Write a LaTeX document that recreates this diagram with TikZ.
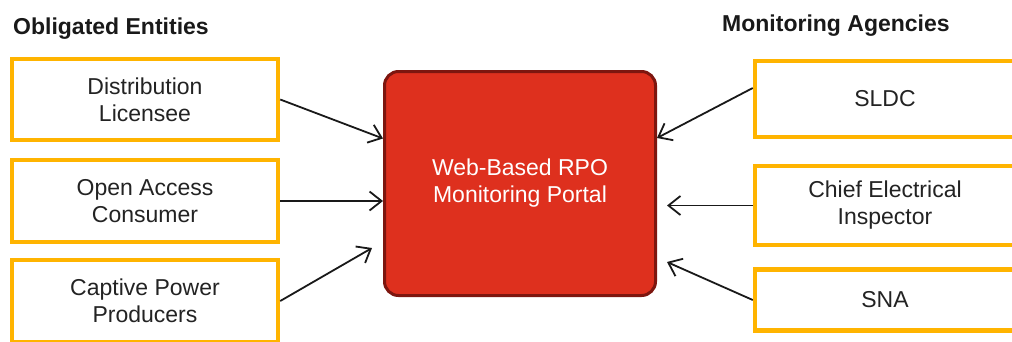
\documentclass[tikz,border=0pt]{standalone}
\usepackage{fontspec}
\setmainfont{Liberation Sans}
\usetikzlibrary{arrows.meta,calc}
\definecolor{boxorange}{RGB}{255,180,0}
\definecolor{portalred}{RGB}{222,48,30}
\definecolor{portaledge}{RGB}{125,22,15}
\definecolor{txt}{RGB}{35,35,35}
\begin{document}
\begin{tikzpicture}[x=1pt,y=1pt,
  entity/.style={draw=boxorange, line width=4.5pt, fill=white, inner sep=0pt,
    align=center, text=txt, font=\fontsize{23}{27}\selectfont},
  portalbox/.style={draw=portaledge, fill=portalred, line width=3pt,
    rounded corners=14pt, minimum width=271pt, minimum height=224pt,
    align=center, text=white, font=\fontsize{23}{27}\selectfont},
  heading/.style={anchor=base west, inner sep=0pt, text=black!90,
    font=\fontsize{23}{27}\selectfont\bfseries},
  arr/.style={draw=black!90, line width=1.8pt,
    -{Straight Barb[length=12pt,width=19pt]}}]
\useasboundingbox (0,0) rectangle (1012,-341);
\clip (0,0) rectangle (1012,-341);

\node[heading] (hl) at (13,-34) {Obligated Entities};
\node[heading] (hr) at (722,-31) {Monitoring Agencies};

\node[entity, minimum width=266pt, minimum height=81pt] (dl) at (145,-99.5) {Distribution\\Licensee};
\node[entity, minimum width=266pt, minimum height=82pt] (oa) at (145,-201) {Open Access\\Consumer};
\node[entity, minimum width=266pt, minimum height=82pt] (cp) at (145,-301) {Captive Power\\Producers};

\node[entity, minimum width=260pt, minimum height=76pt] (sldc) at (885,-99) {SLDC};
\node[entity, minimum width=260pt, minimum height=79pt] (cei) at (885,-205.5) {Chief Electrical\\Inspector};
\node[entity, minimum width=260pt, minimum height=61pt] (sna) at (885,-300) {SNA};

\node[portalbox] (portal) at (520,-183.5) {Web-Based RPO\\Monitoring Portal};

\draw[arr] (dl.east) -- ($(portal.west)+(0,45)$);
\draw[arr] (oa.east) -- (portal.west |- oa.east);
\draw[arr] (cp.east) -- ($(portal.west)+(-11,-64.5)$);

\draw[arr] ($(sldc.west)+(0,11)$) -- ($(portal.east)+(0,45.5)$);
\draw[arr] (cei.west) -- ($(portal.east |- cei.west)+(10,0)$);
\draw[arr] (sna.west) -- ($(portal.east)+(10,-78.5)$);
\end{tikzpicture}
\end{document}
